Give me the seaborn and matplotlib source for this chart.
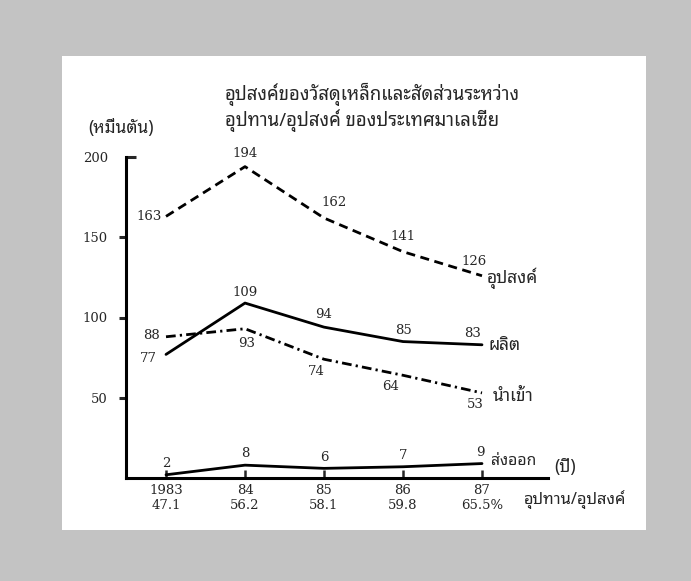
import matplotlib
matplotlib.use("Agg")
import matplotlib.pyplot as plt
import matplotlib.lines as mlines
import seaborn as sns
import pandas as pd
from matplotlib.patches import Rectangle

years = ["1983", "84", "85", "86", "87"]
ratios = ["47.1", "56.2", "58.1", "59.8", "65.5%"]
demand = [163, 194, 162, 141, 126]
production = [77, 109, 94, 85, 83]
imports = [88, 93, 74, 64, 53]
exports = [2, 8, 6, 7, 9]
series_names = ["อุปสงค์", "ผลิต", "นำเข้า", "ส่งออก"]
title_lines = ["อุปสงค์ของวัสดุเหล็กและสัดส่วนระหว่าง", "อุปทาน/อุปสงค์ ของประเทศมาเลเซีย"]
unit_label = "(หมื่นตัน)"
year_unit = "(ปี)"
ratio_label = "อุปทาน/อุปสงค์"

sns.set_style("ticks")
THAI = ["Noto Sans Thai Looped", "DejaVu Sans"]
NUM = ["DejaVu Serif"]
plt.rcParams["font.family"] = THAI
plt.rcParams["lines.scale_dashes"] = False

W, H = 691, 581
fig = plt.figure(figsize=(W / 100, H / 100), dpi=100)
fig.patch.set_facecolor("#c3c3c3")
fig.patches.append(Rectangle((62 / W, 1 - 530 / H), 584 / W, 474 / H,
                             transform=fig.transFigure, facecolor="white",
                             edgecolor="none", zorder=-5))

def px(x0, y0, x1, y1):
    return [x0 / W, 1 - y1 / H, (x1 - x0) / W, (y1 - y0) / H]

ax = fig.add_axes(px(126, 157, 548, 478))
ax.set_zorder(2)
ax.set_facecolor("none")

pos = list(range(len(years)))
df = pd.DataFrame({"pos": pos, "demand": demand, "production": production,
                   "imports": imports, "exports": exports})

styles = {
    "demand": (6.5, 4.0),
    "production": None,
    "imports": (7.0, 3.0, 1.6, 3.0),
    "exports": None,
}
for col in ["demand", "production", "imports", "exports"]:
    sns.lineplot(data=df, x="pos", y=col, ax=ax, color="black", lw=2.0)
    ln = ax.lines[-1]
    if styles[col] is not None:
        ln.set_dashes(styles[col])

x_step = 79
xmin = -40 / x_step
xmax = 4 + 66 / x_step
ax.set_xlim(xmin, xmax)
ax.set_ylim(0, 200)

ax.spines[["top", "right"]].set_visible(False)
for s in ["left", "bottom"]:
    ax.spines[s].set_linewidth(2.2)
    ax.spines[s].set_color("black")

NUMFS = 9.5
ax.set_yticks([50, 100, 150, 200])
ax.set_yticklabels(["50", "100", "150", "200"], family=NUM, fontsize=NUMFS)
ax.tick_params(axis="y", direction="out", length=5, width=2.2, pad=8)
ax.set_xticks(pos)
ax.set_xticklabels([f"{y}\n{r}" for y, r in zip(years, ratios)],
                   family=NUM, fontsize=NUMFS, linespacing=1.25)
ax.tick_params(axis="x", direction="in", length=6, width=1.8, pad=4)
ax.set_xlabel("")
ax.set_ylabel("")
# top tick hooks to the right, like the original axis end
top_tick = ax.yaxis.get_major_ticks()[-1]
top_tick.tick1line.set_marker(mlines.TICKRIGHT)
top_tick.tick1line.set_markersize(7)

def lab(i, vals, text, dx, dy, ha="center"):
    ax.annotate(text, (pos[i], vals[i]), xytext=(dx, -dy),
                textcoords="offset pixels", ha=ha, va="center",
                family=NUM, fontsize=NUMFS)

d_off = [(-17, 0), (0, -13), (10, -15), (0, -15), (-8, -14)]
for i, (dx, dy) in enumerate(d_off):
    lab(i, demand, str(demand[i]), dx, dy)
p_off = [(-18, 4), (0, -11), (0, -13), (0, -11), (-9, -11)]
for i, (dx, dy) in enumerate(p_off):
    lab(i, production, str(production[i]), dx, dy)
m_off = [(-14, -1), (2, 15), (-8, 12), (-12, 11), (-7, 12)]
for i, (dx, dy) in enumerate(m_off):
    lab(i, imports, str(imports[i]), dx, dy)
e_off = [(0, -11), (0, -12), (0, -11), (0, -11), (-2, -11)]
for i, (dx, dy) in enumerate(e_off):
    lab(i, exports, str(exports[i]), dx, dy)

def thai_end(vals, text, dx, dy, fs=12.5):
    ax.annotate(text, (pos[-1], vals[-1]), xytext=(dx, -dy),
                textcoords="offset pixels", ha="left", va="center",
                fontsize=fs)

thai_end(demand, series_names[0], 5, 3)
thai_end(production, series_names[1], 7, 0)
thai_end(imports, series_names[2], 11, 3)
thai_end(exports, series_names[3], 9, -3, fs=11.3)

def ftext(x, y, s, **kw):
    fig.text(x / W, 1 - y / H, s, **kw)

ftext(225, 94, title_lines[0], ha="left", va="center", fontsize=13.3)
ftext(225, 121, title_lines[1], ha="left", va="center", fontsize=13.3)
ftext(121, 128, unit_label, ha="center", va="center", fontsize=12.5)
ftext(565, 467, year_unit, ha="center", va="center", fontsize=12.5)
ftext(575, 500, ratio_label, ha="center", va="center", fontsize=11.8)

fig.savefig("out.png", dpi=100, facecolor=fig.get_facecolor())
